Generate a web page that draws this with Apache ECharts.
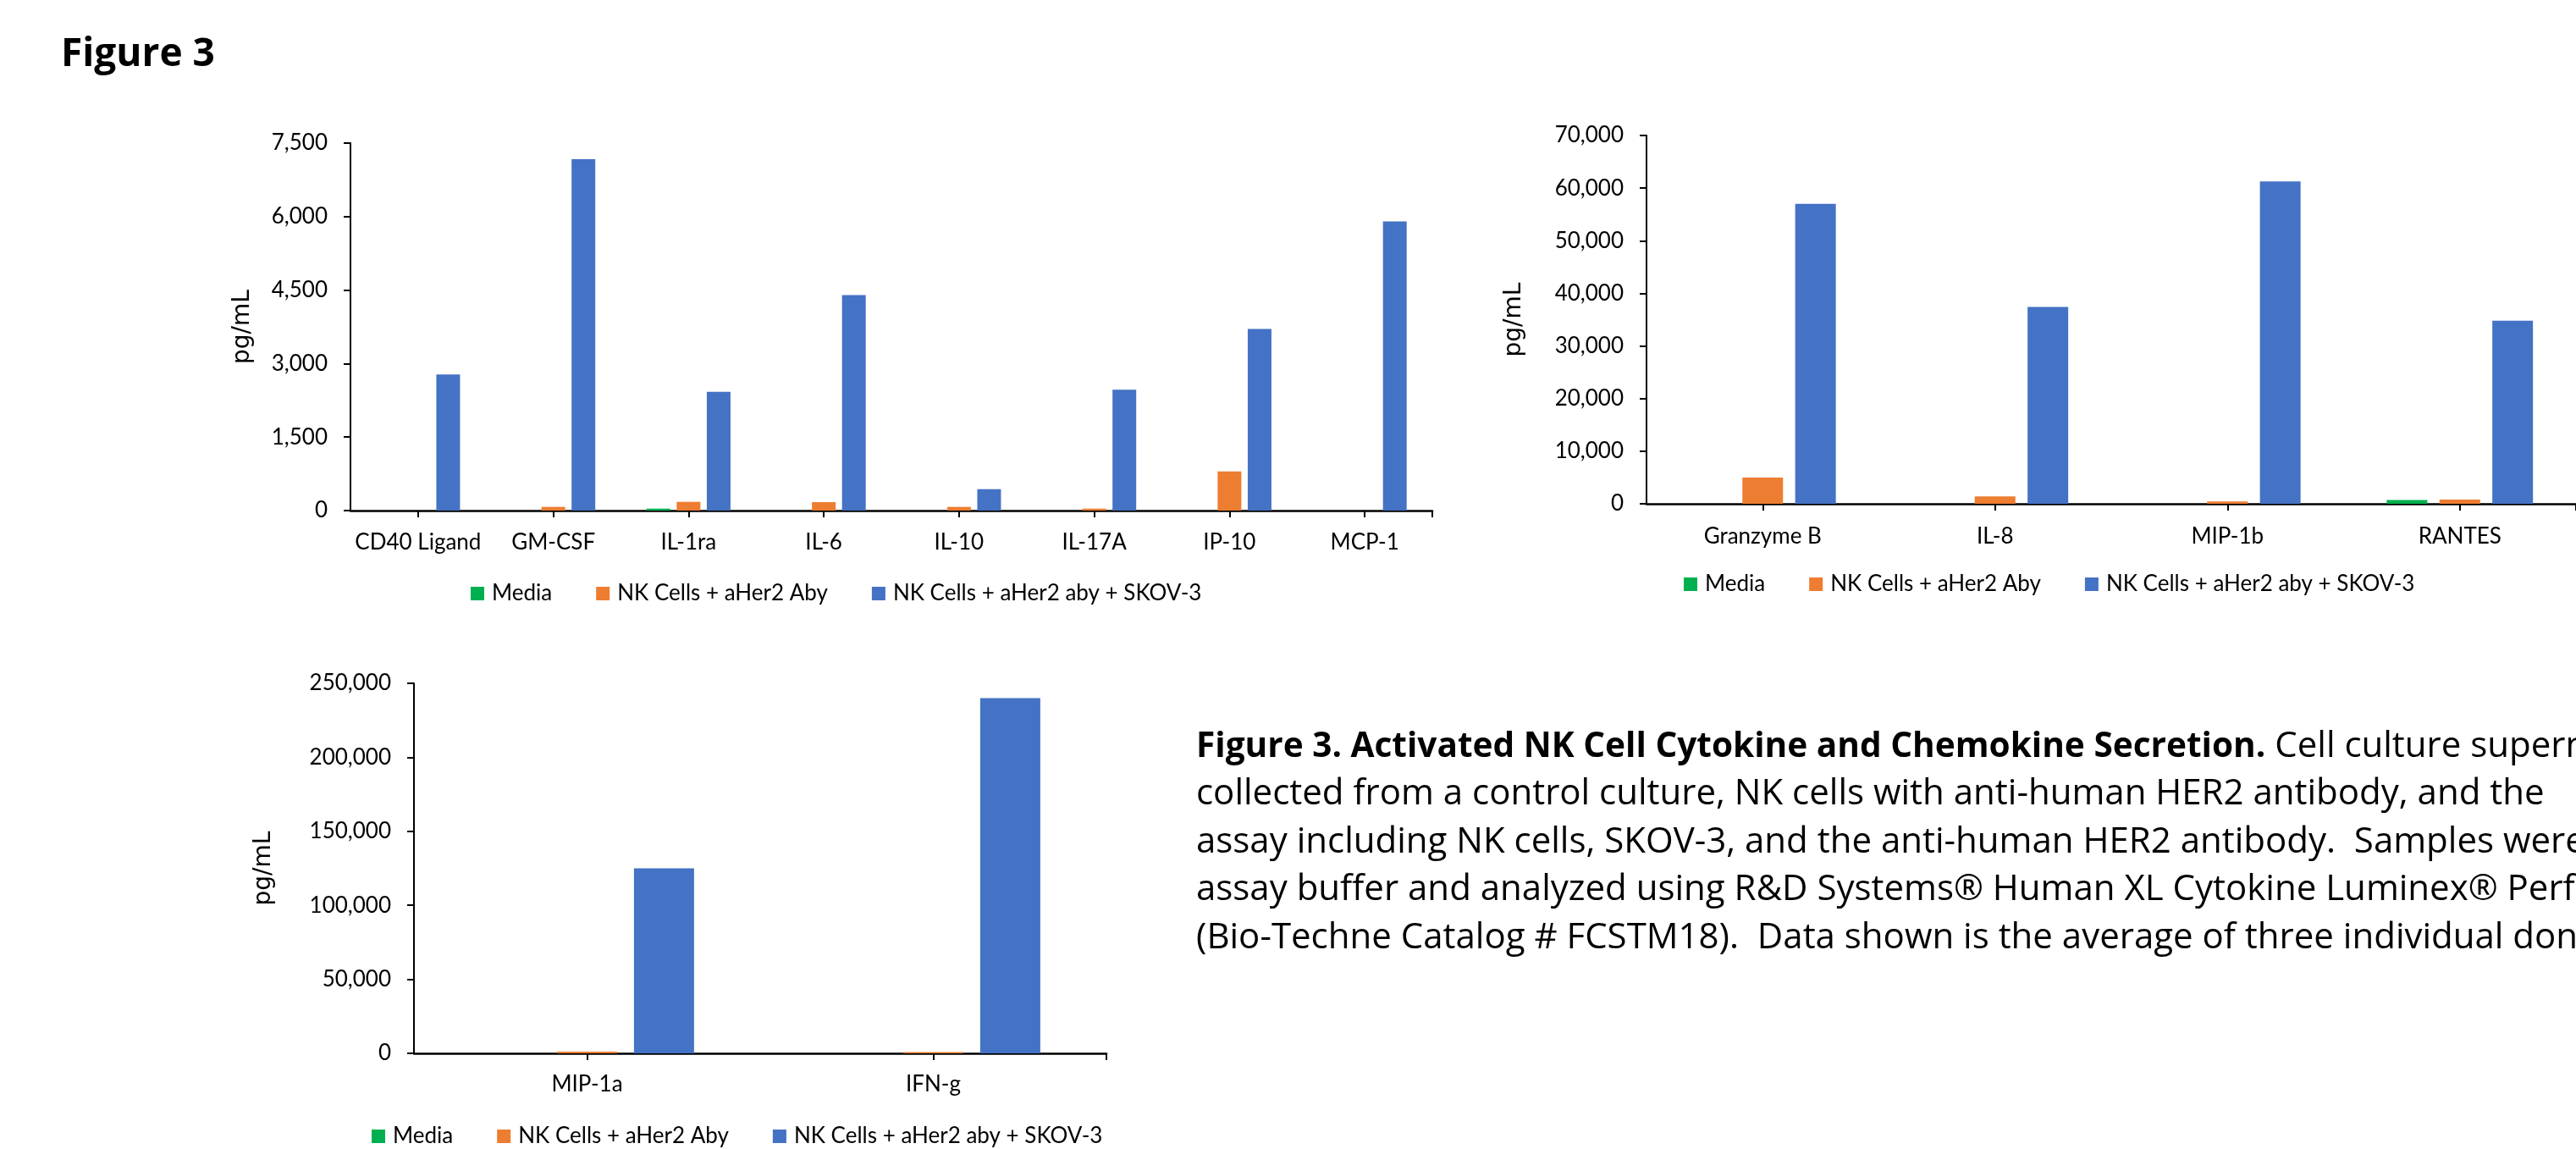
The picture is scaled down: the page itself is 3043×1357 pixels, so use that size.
<!DOCTYPE html>
<html>
<head>
<meta charset="utf-8">
<script src="https://cdn.jsdelivr.net/npm/echarts@6/dist/echarts.min.js"></script>
<style>
html,body{margin:0;padding:0;background:#fff;}
#chart{width:3043px;height:1357px;}
</style>
</head>
<body>
<div id="chart"></div>
<script>
// ---------- data ----------
const seriesNames = ['Media', 'NK Cells + aHer2 Aby', 'NK Cells + aHer2 aby + SKOV-3'];
const seriesColors = ['#00B050', '#ED7D31', '#4472C4'];

const cat1 = ['CD40 Ligand', 'GM-CSF', 'IL-1ra', 'IL-6', 'IL-10', 'IL-17A', 'IP-10', 'MCP-1'];
const media1 = [0, 0, 40, 0, 0, 0, 0, 0];
const nk1 = [0, 75, 178, 172, 75, 40, 800, 0];
const skov1 = [2780, 7170, 2425, 4400, 437, 2465, 3705, 5900];

const cat2 = ['Granzyme B', 'IL-8', 'MIP-1b', 'RANTES'];
const media2 = [0, 0, 0, 740];
const nk2 = [4970, 1410, 430, 800];
const skov2 = [57000, 37420, 61290, 34790];

const cat3 = ['MIP-1a', 'IFN-g'];
const media3 = [0, 0];
const nk3 = [1100, 900];
const skov3 = [125000, 240000];

const yMax = [7500, 70000, 250000];
const yStep = [1500, 10000, 50000];
const yTitle = 'pg/mL';

const figTitle = 'Figure 3';
const captionBold = 'Figure 3. Activated NK Cell Cytokine and Chemokine Secretion.';
const captionLines = [
  ' Cell culture supernatants were',
  'collected from a control culture, NK cells with anti-human HER2 antibody, and the',
  'assay including NK cells, SKOV-3, and the anti-human HER2 antibody.  Samples were',
  'assay buffer and analyzed using R&D Systems\u00AE Human XL Cytokine Luminex\u00AE Performance',
  '(Bio-Techne Catalog # FCSTM18).  Data shown is the average of three individual donors'
];

// ---------- layout ----------
const grids = [
  {left: 414, top: 169, width: 1278, height: 434},
  {left: 1945, top: 160, width: 1112, height: 435},
  {left: 489, top: 807, width: 818, height: 437}
];
const cats = [cat1, cat2, cat3];
const vals = [[media1, nk1, skov1], [media2, nk2, skov2], [media3, nk3, skov3]];
const barW = [28, 48, 71];
const barGaps = ['27%', '30%', '28%'];
const labelMargins = [25, 26, 24];
const nameGaps = [113, 142, 163];
const legendPos = [{left: 556, top: 688}, {left: 1989, top: 677}, {left: 439, top: 1329}];

const FONT = 'Lato';
const xAxes = [], yAxes = [], series = [], legends = [];
for (let g = 0; g < 3; g++) {
  xAxes.push({
    type: 'category', gridIndex: g, data: cats[g], position: 'bottom',
    axisLine: {show: true, onZero: false, lineStyle: {color: '#000', width: 2.5}},
    axisTick: {show: false},
    axisLabel: {color: '#000', fontFamily: FONT, fontSize: 26, margin: labelMargins[g], interval: 0},
    splitLine: {show: false}
  });
  const n = cats[g].length;
  xAxes.push({
    type: 'category', gridIndex: g, position: 'bottom', boundaryGap: false,
    data: Array.from({length: 2 * n + 1}, () => ''),
    axisLine: {show: false},
    axisLabel: {show: false},
    axisTick: {show: true, length: 8, lineStyle: {color: '#000', width: 2},
      interval: (i) => (i % 2 === 1) || i === 2 * n},
    splitLine: {show: false}
  });
  yAxes.push({
    type: 'value', gridIndex: g, min: 0, max: yMax[g], interval: yStep[g],
    name: yTitle, nameLocation: 'middle', nameGap: nameGaps[g], nameRotate: 90,
    nameTextStyle: {fontFamily: 'DejaVu Sans', fontSize: 28, color: '#000'},
    axisLine: {show: true, lineStyle: {color: '#000', width: 2}},
    axisTick: {show: true, length: 8, lineStyle: {color: '#000', width: 2}},
    axisLabel: {color: '#000', fontFamily: FONT, fontSize: 26, margin: 27,
      formatter: (v) => v.toLocaleString('en-US')},
    splitLine: {show: false}
  });
  for (let s = 0; s < 3; s++) {
    series.push({
      type: 'bar', name: seriesNames[s], xAxisIndex: 2 * g, yAxisIndex: g,
      data: vals[g][s], barWidth: barW[g], barGap: barGaps[g],
      itemStyle: {color: seriesColors[s]}
    });
  }
  legends.push({
    data: seriesNames.map((nm, i) => ({name: nm, icon: 'rect', itemStyle: {color: seriesColors[i]}})),
    left: legendPos[g].left, top: legendPos[g].top, orient: 'horizontal',
    itemWidth: 16, itemHeight: 16, itemGap: 52, padding: 0,
    textStyle: {fontFamily: FONT, fontSize: 26, color: '#000', lineHeight: 26, padding: [0, 0, 0, 4]}
  });
}

const capX = 1413, capY0 = 882, capStep = 56.5;
const graphics = [
  {type: 'text', x: 72, y: 65, style: {text: figTitle, font: 'bold 46px "Open Sans"', fill: '#000', verticalAlign: 'middle', align: 'left'}},
  {type: 'text', x: capX, y: capY0, style: {
    text: '{b|' + captionBold + '}{n|' + captionLines[0] + '}',
    rich: {b: {font: 'bold 40.6px "Open Sans"', fill: '#000'}, n: {font: '42px "Open Sans"', fill: '#000'}},
    verticalAlign: 'middle', align: 'left'}}
];
for (let i = 1; i < captionLines.length; i++) {
  graphics.push({type: 'text', x: capX, y: capY0 + capStep * i,
    style: {text: captionLines[i], font: '42px "Open Sans"', fill: '#000', verticalAlign: 'middle', align: 'left'}});
}

const chart = echarts.init(document.getElementById('chart'), null, {renderer: 'canvas'});
chart.setOption({
  backgroundColor: '#fff',
  animation: false,
  grid: grids,
  xAxis: xAxes,
  yAxis: yAxes,
  legend: legends,
  series: series,
  graphic: graphics
});
</script>
</body>
</html>
